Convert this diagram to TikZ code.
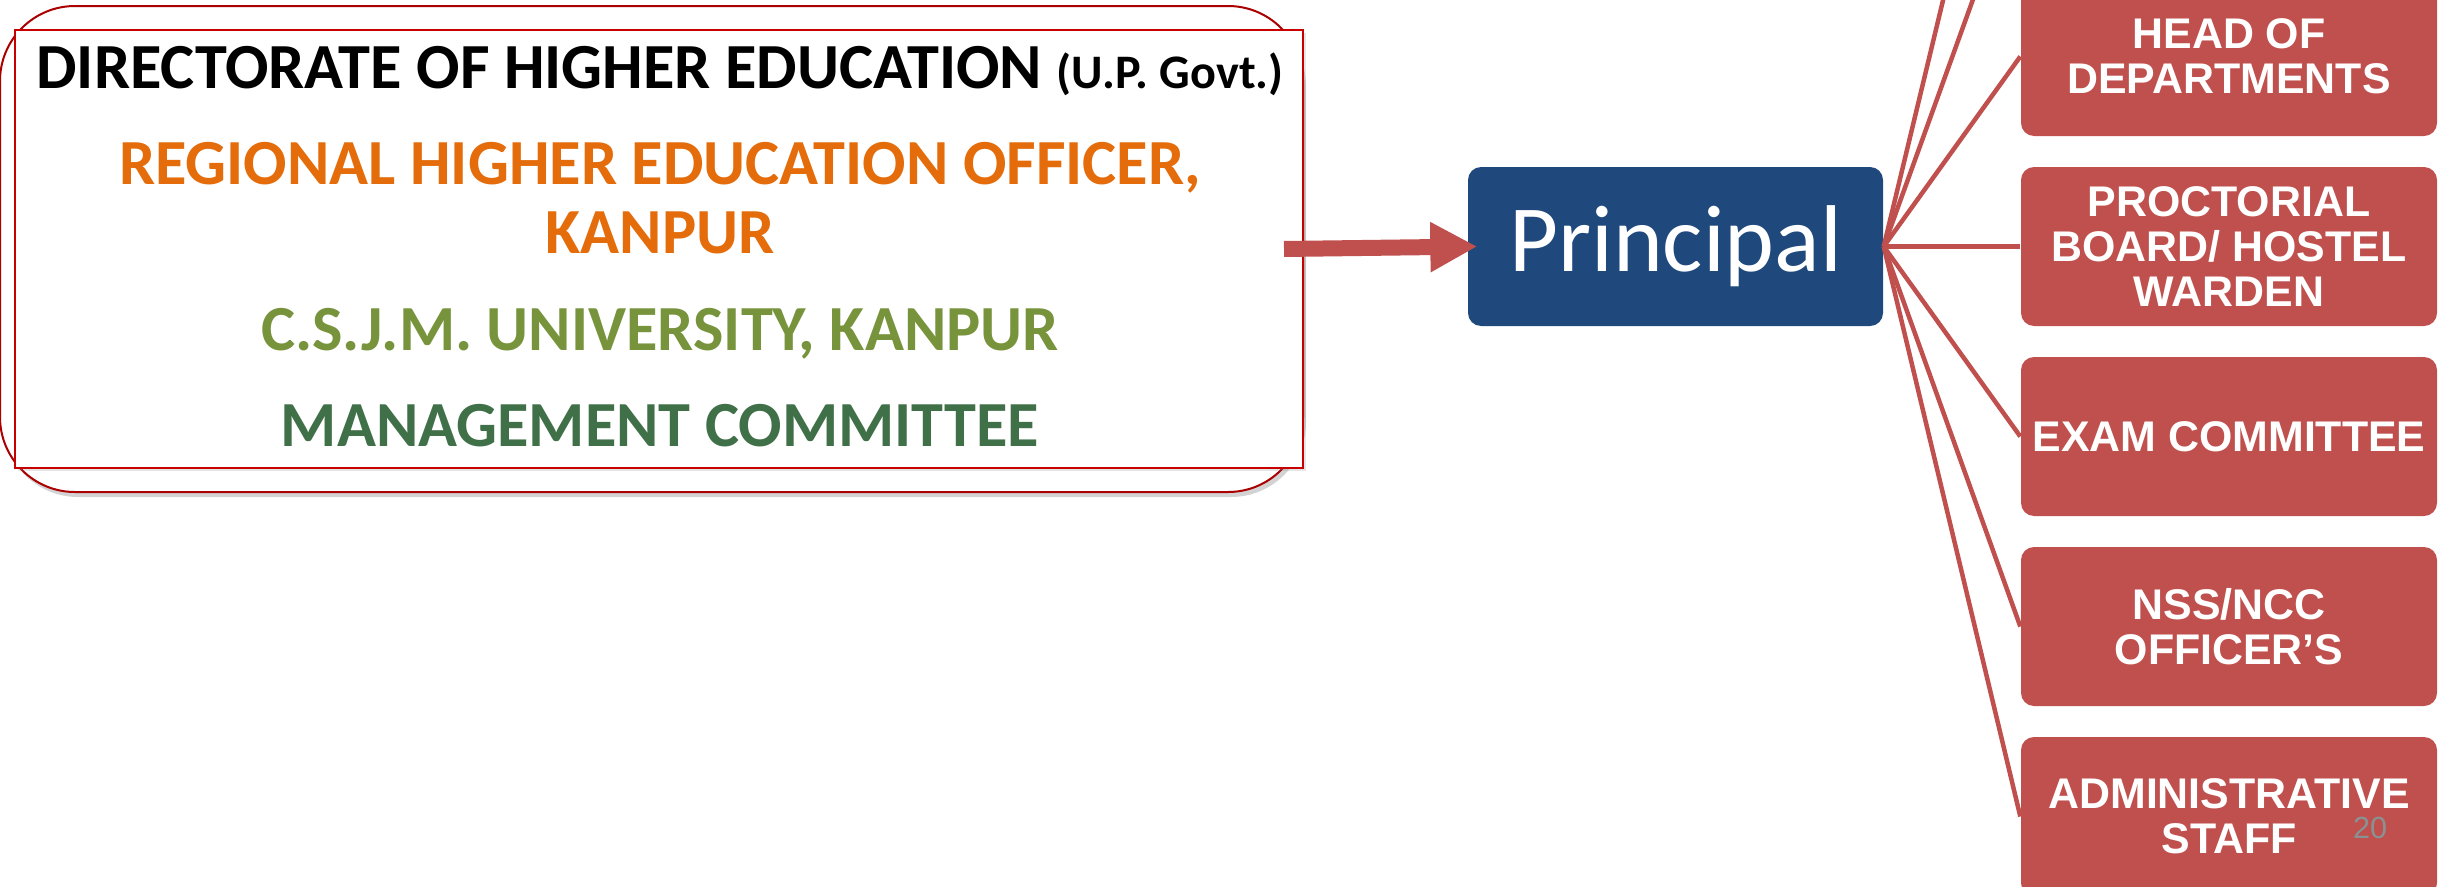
\documentclass[tikz,border=0pt]{standalone}
\usepackage{fontspec}
\setmainfont{Carlito}
\newfontfamily\arialfont{Liberation Sans}
\usepackage{tikz}
\usetikzlibrary{positioning, arrows.meta, shadows}
\definecolor{princblue}{RGB}{31,73,125}
\definecolor{boxred}{RGB}{192,80,77}
\definecolor{borderred}{RGB}{200,0,0}
\definecolor{txtorange}{RGB}{228,108,10}
\definecolor{txtolive}{RGB}{119,147,60}
\definecolor{txtgreen}{RGB}{64,112,72}
\definecolor{pagegray}{RGB}{136,146,146}
\tikzset{
node distance=1.9cm, % distance between the red boxes, centre to centre
member/.style={rectangle, rounded corners=0.13cm, fill=boxred, text=white, minimum width=4.16cm, minimum height=1.59cm, inner sep=0pt, align=center, font=\arialfont\bfseries\fontsize{12.2}{12.8}\selectfont}, % the red boxes
head/.style={rectangle, rounded corners=0.13cm, fill=princblue, text=white, minimum width=4.15cm, minimum height=1.59cm, inner sep=0pt, font=\fontsize{27}{30}\selectfont}, % the blue box
govouter/.style={rectangle, rounded corners=0.75cm, draw=borderred!85!black, line width=0.02cm, fill=white, minimum width=13.03cm, minimum height=4.86cm, drop shadow={shadow xshift=0.03cm, shadow yshift=-0.05cm, opacity=0.35}},
govinner/.style={rectangle, draw=borderred, line width=0.025cm, fill=white, minimum width=12.88cm, minimum height=4.38cm, drop shadow={shadow xshift=0.03cm, shadow yshift=-0.03cm, opacity=0.2}},
govline/.style={anchor=base, inner sep=0pt, font=\bfseries\fontsize{18.3}{19.6}\selectfont}, % one line of text in the left block
link/.style={draw=boxred, line width=0.045cm}, % lines from the principal
bigarrow/.style={-{Triangle[width=0.47cm, length=0.47cm]}, draw=boxred, line width=0.16cm},
}
\begin{document}
\begin{tikzpicture}
\useasboundingbox (0,0) rectangle (24.45,-8.86);
\clip (0,0) rectangle (24.45,-8.86);

            % left block
            \node[govouter] (outer) at (6.515,-2.49) {};
            \node[govinner] (inner) at (6.59,-2.49) {};
            \node[govline] (dir) at (6.6,-0.88) {DIRECTORATE OF HIGHER EDUCATION {\fontsize{13.7}{14}\selectfont(U.P. Govt.)}};
            \node[govline, text=txtorange] (rheo) at (6.6,-1.84) {REGIONAL HIGHER EDUCATION OFFICER,};
            \node[govline, text=txtorange] (kanpur) at (6.6,-2.53) {KANPUR};
            \node[govline, text=txtolive] (csjm) at (6.6,-3.50) {C.S.J.M. UNIVERSITY, KANPUR};
            \node[govline, text=txtgreen] (mc) at (6.6,-4.46) {MANAGEMENT COMMITTEE};

            % principal and the boxes under it
            \node[head] (principal) at (16.755,-2.465) {Principal};
            \node[member, right of=principal, xshift=3.635cm] (proctor) {PROCTORIAL\\BOARD/ HOSTEL\\WARDEN};
            \node[member, above of=proctor] (hod) {HEAD OF\\DEPARTMENTS};
            \node[member, below of=proctor] (exam) {EXAM COMMITTEE};
            \node[member, below of=exam] (nss) {NSS/NCC\\OFFICER’S};
            \node[member, below of=nss] (admin) {ADMINISTRATIVE\\STAFF};
            \coordinate[above of=hod, xshift=-2.08cm] (upper1);
            \coordinate[above of=upper1] (upper2);

            \draw[bigarrow] ([xshift=-0.2cm]outer.east) -- ([xshift=0.1cm]principal.west);
            \draw[link] (principal.east) edge (upper2);
            \draw[link] (principal.east) edge (upper1);
            \draw[link] (principal.east) edge (hod.west);
            \draw[link] (principal.east) edge (proctor.west);
            \draw[link] (principal.east) edge (exam.west);
            \draw[link] (principal.east) edge (nss.west);
            \draw[link] (principal.east) edge (admin.west);

            \node[font=\arialfont\fontsize{8.7}{10}\selectfont, text=pagegray, inner sep=0pt] (pagenum) at (23.70,-8.28) {20};
\end{tikzpicture}
\end{document}
